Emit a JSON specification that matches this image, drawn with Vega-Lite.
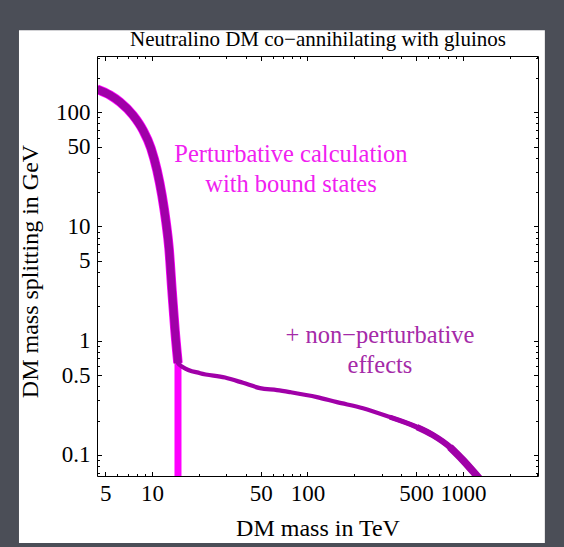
{
  "$schema": "https://vega.github.io/schema/vega-lite/v6.json",
  "width": 441,
  "height": 420,
  "autosize": {"type": "none"},
  "padding": {"left": 97, "top": 56, "right": 26, "bottom": 71},
  "background": "#4b4e57",
  "datasets": {
    "pert": [
      {"mass": 4.43, "splitting": 158.9},
      {"mass": 5.37, "splitting": 140.8},
      {"mass": 6.23, "splitting": 122.3},
      {"mass": 7.55, "splitting": 94.1},
      {"mass": 8.75, "splitting": 69.6},
      {"mass": 9.85, "splitting": 48.4},
      {"mass": 10.77, "splitting": 31.1},
      {"mass": 11.59, "splitting": 18.8},
      {"mass": 12.31, "splitting": 10.9},
      {"mass": 12.87, "splitting": 6.46},
      {"mass": 13.45, "splitting": 2.77},
      {"mass": 14.06, "splitting": 1.24},
      {"mass": 14.7, "splitting": 0.637},
      {"mass": 14.7, "splitting": 0.05}
    ],
    "nonpert": [
      {"mass": 4.43, "splitting": 158.9},
      {"mass": 5.37, "splitting": 140.8},
      {"mass": 6.23, "splitting": 122.3},
      {"mass": 7.55, "splitting": 94.1},
      {"mass": 8.75, "splitting": 69.6},
      {"mass": 9.85, "splitting": 48.4},
      {"mass": 10.77, "splitting": 31.1},
      {"mass": 11.59, "splitting": 18.8},
      {"mass": 12.31, "splitting": 10.9},
      {"mass": 12.87, "splitting": 6.46},
      {"mass": 13.45, "splitting": 2.77},
      {"mass": 14.06, "splitting": 1.24},
      {"mass": 14.7, "splitting": 0.637},
      {"mass": 15.83, "splitting": 0.587},
      {"mass": 20.4, "splitting": 0.52},
      {"mass": 29.5, "splitting": 0.476},
      {"mass": 38.5, "splitting": 0.428},
      {"mass": 49.5, "splitting": 0.385},
      {"mass": 63.7, "splitting": 0.37},
      {"mass": 77.2, "splitting": 0.355},
      {"mass": 115.1, "splitting": 0.321},
      {"mass": 154.8, "splitting": 0.29},
      {"mass": 227.5, "splitting": 0.257},
      {"mass": 339, "splitting": 0.2146},
      {"mass": 506, "splitting": 0.1754},
      {"mass": 641, "splitting": 0.1493},
      {"mass": 825, "splitting": 0.1172},
      {"mass": 1000, "splitting": 0.0902},
      {"mass": 1249, "splitting": 0.0641},
      {"mass": 1333, "splitting": 0.058}
    ]
  },
  "resolve": {"axis": {"x": "independent", "y": "independent"}},
  "layer": [
    {
      "data": {"values": [{"panel": "page"}]},
      "mark": {"type": "rect", "fill": "white", "clip": false},
      "encoding": {
        "x": {"datum": 1.395, "type": "quantitative", "scale": {"type": "log", "domain": [4.43, 3040], "nice": false}, "axis": null},
        "x2": {"datum": 3365},
        "y": {"datum": 0.01694, "type": "quantitative", "scale": {"type": "log", "domain": [0.0655, 310], "nice": false}, "axis": null},
        "y2": {"datum": 521.9}
      }
    },
    {
      "data": {"name": "pert"},
      "transform": [{"filter": "datum.splitting >= 0.637"}],
      "mark": {"type": "line", "color": "#ff00ff", "strokeWidth": 9.5, "clip": true, "interpolate": "monotone"},
      "encoding": {
        "x": {"field": "mass", "type": "quantitative", "scale": {"type": "log", "domain": [4.43, 3040], "nice": false},
          "axis": {"orient": "bottom", "zindex": 1, "values": [5, 10, 50, 100, 500, 1000], "ticks": false, "domain": true, "labelPadding": 6, "format": "~g", "title": "DM mass in TeV", "titleY": 59, "titleBaseline": "alphabetic"}},
        "y": {"field": "splitting", "type": "quantitative", "scale": {"type": "log", "domain": [0.0655, 310], "nice": false},
          "axis": {"orient": "left", "zindex": 1, "values": [0.1, 0.5, 1, 5, 10, 50, 100], "ticks": false, "domain": true, "labelPadding": 7, "format": "~g", "title": "DM mass splitting in GeV", "titleX": -60, "titleY": 215, "titleBaseline": "alphabetic"}}
      }
    },
    {
      "data": {"name": "pert"},
      "transform": [{"filter": "datum.mass >= 14.7"}],
      "mark": {"type": "line", "color": "#ff00ff", "strokeWidth": 7, "clip": true},
      "encoding": {
        "x": {"field": "mass", "type": "quantitative", "scale": {"type": "log", "domain": [4.43, 3040], "nice": false}, "axis": null},
        "y": {"field": "splitting", "type": "quantitative", "scale": {"type": "log", "domain": [0.0655, 310], "nice": false}, "axis": null}
      }
    },
    {
      "data": {"name": "nonpert"},
      "mark": {"type": "line", "color": "#a000a8", "strokeWidth": 4.2, "clip": true, "interpolate": "monotone"},
      "encoding": {
        "x": {"field": "mass", "type": "quantitative", "scale": {"type": "log", "domain": [4.43, 3040], "nice": false},
          "axis": {"orient": "bottom", "zindex": 1, "values": [5, 10, 50, 100, 500, 1000], "tickSize": -4.5, "labels": false, "domain": false, "title": null}},
        "y": {"field": "splitting", "type": "quantitative", "scale": {"type": "log", "domain": [0.0655, 310], "nice": false},
          "axis": {"orient": "left", "zindex": 1, "values": [0.1, 0.5, 1, 5, 10, 50, 100], "tickSize": -4.5, "labels": false, "domain": false, "title": null}}
      }
    },
    {
      "data": {"name": "nonpert"},
      "transform": [{"filter": "datum.mass <= 14.7"}],
      "mark": {"type": "line", "color": "#a000a8", "strokeWidth": 8, "clip": true, "interpolate": "monotone"},
      "encoding": {
        "x": {"field": "mass", "type": "quantitative", "scale": {"type": "log", "domain": [4.43, 3040], "nice": false},
          "axis": {"orient": "bottom", "zindex": 1, "values": [6, 7, 8, 9, 20, 30, 40, 60, 70, 80, 90, 200, 300, 400, 600, 700, 800, 900, 2000, 3000], "tickSize": -2.5, "labels": false, "domain": false, "title": null}},
        "y": {"field": "splitting", "type": "quantitative", "scale": {"type": "log", "domain": [0.0655, 310], "nice": false},
          "axis": {"orient": "left", "zindex": 1, "values": [0.07, 0.08, 0.09, 0.2, 0.3, 0.4, 0.6, 0.7, 0.8, 0.9, 2, 3, 4, 6, 7, 8, 9, 20, 30, 40, 60, 70, 80, 90, 200, 300], "tickSize": -2.5, "labels": false, "domain": false, "title": null}}
      }
    },
    {
      "data": {"name": "nonpert"},
      "transform": [{"filter": "datum.mass >= 339"}],
      "mark": {"type": "line", "color": "#a000a8", "strokeWidth": 5.2, "clip": true, "interpolate": "monotone"},
      "encoding": {
        "x": {"field": "mass", "type": "quantitative", "scale": {"type": "log", "domain": [4.43, 3040], "nice": false},
          "axis": {"orient": "top", "zindex": 1, "values": [5, 10, 50, 100, 500, 1000], "tickSize": -4.5, "labels": false, "domain": true,
            "title": "Neutralino DM co−annihilating with gluinos", "titleFontSize": 21, "titleY": -11, "titleBaseline": "alphabetic"}},
        "y": {"field": "splitting", "type": "quantitative", "scale": {"type": "log", "domain": [0.0655, 310], "nice": false},
          "axis": {"orient": "right", "zindex": 1, "values": [0.1, 0.5, 1, 5, 10, 50, 100], "tickSize": -4.5, "labels": false, "domain": true, "title": null}}
      }
    },
    {
      "data": {"name": "nonpert"},
      "transform": [{"filter": "datum.mass >= 506"}],
      "mark": {"type": "line", "color": "#a000a8", "strokeWidth": 6.3, "clip": true, "interpolate": "monotone"},
      "encoding": {
        "x": {"field": "mass", "type": "quantitative", "scale": {"type": "log", "domain": [4.43, 3040], "nice": false},
          "axis": {"orient": "top", "zindex": 1, "values": [6, 7, 8, 9, 20, 30, 40, 60, 70, 80, 90, 200, 300, 400, 600, 700, 800, 900, 2000, 3000], "tickSize": -2.5, "labels": false, "domain": false, "title": null}},
        "y": {"field": "splitting", "type": "quantitative", "scale": {"type": "log", "domain": [0.0655, 310], "nice": false},
          "axis": {"orient": "right", "zindex": 1, "values": [0.07, 0.08, 0.09, 0.2, 0.3, 0.4, 0.6, 0.7, 0.8, 0.9, 2, 3, 4, 6, 7, 8, 9, 20, 30, 40, 60, 70, 80, 90, 200, 300], "tickSize": -2.5, "labels": false, "domain": false, "title": null}}
      }
    },
    {
      "data": {"name": "nonpert"},
      "transform": [{"filter": "datum.mass >= 825"}],
      "mark": {"type": "line", "color": "#a000a8", "strokeWidth": 7.6, "clip": true, "interpolate": "monotone"},
      "encoding": {
        "x": {"field": "mass", "type": "quantitative", "scale": {"type": "log", "domain": [4.43, 3040], "nice": false}, "axis": null},
        "y": {"field": "splitting", "type": "quantitative", "scale": {"type": "log", "domain": [0.0655, 310], "nice": false}, "axis": null}
      }
    },
    {
      "data": {"values": [{"note": "Perturbative calculation\nwith bound states"}]},
      "mark": {"type": "text", "font": "Liberation Serif", "fontSize": 24.5, "lineBreak": "\n", "lineHeight": 30, "align": "center", "baseline": "alphabetic", "color": "#f020f0"},
      "encoding": {
        "x": {"datum": 78.3, "type": "quantitative", "scale": {"type": "log", "domain": [4.43, 3040], "nice": false}, "axis": null},
        "y": {"datum": 36.5, "type": "quantitative", "scale": {"type": "log", "domain": [0.0655, 310], "nice": false}, "axis": null},
        "text": {"field": "note"}
      }
    },
    {
      "data": {"values": [{"note": "+ non−perturbative\neffects"}]},
      "mark": {"type": "text", "font": "Liberation Serif", "fontSize": 24.5, "lineBreak": "\n", "lineHeight": 30, "align": "center", "baseline": "alphabetic", "color": "#a52aa8"},
      "encoding": {
        "x": {"datum": 292.6, "type": "quantitative", "scale": {"type": "log", "domain": [4.43, 3040], "nice": false}, "axis": null},
        "y": {"datum": 0.953, "type": "quantitative", "scale": {"type": "log", "domain": [0.0655, 310], "nice": false}, "axis": null},
        "text": {"field": "note"}
      }
    }
  ],
  "config": {
    "view": {"stroke": null},
    "axis": {
      "grid": false,
      "labelFont": "Liberation Serif",
      "labelFontSize": 23,
      "labelColor": "black",
      "labelFlush": false,
      "labelOverlap": false,
      "titleFont": "Liberation Serif",
      "titleFontSize": 24,
      "titleFontWeight": "normal",
      "titleColor": "black",
      "domainColor": "black",
      "domainWidth": 1,
      "tickColor": "black",
      "tickWidth": 1
    }
  }
}
